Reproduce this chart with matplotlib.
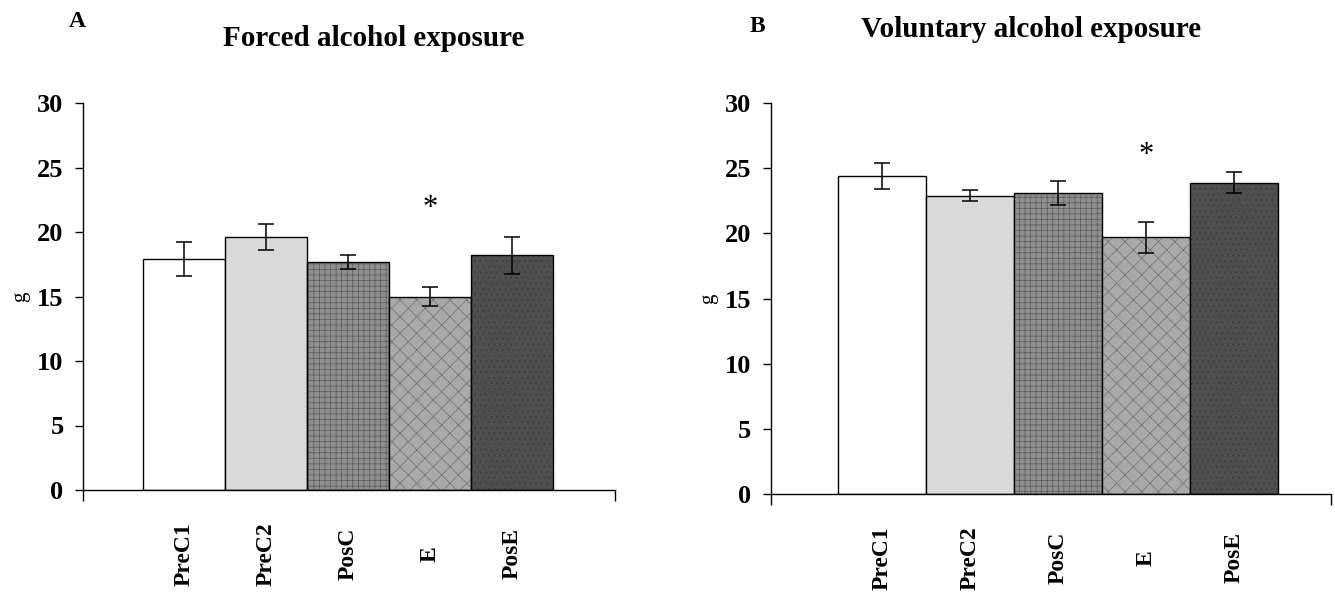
import numpy as np
import matplotlib
matplotlib.use("Agg")
import matplotlib.pyplot as plt

plt.rcParams.update({"font.family": "Liberation Serif", "font.weight": "bold",
                     "hatch.linewidth": 0.5})

groups = ["PreC1", "PreC2", "PosC", "E", "PosE"]
forced_mean = [17.9, 19.6, 17.7, 15.0, 18.2]
forced_err = [1.3, 1.0, 0.55, 0.75, 1.45]
voluntary_mean = [24.4, 22.9, 23.1, 19.7, 23.9]
voluntary_err = [1.0, 0.4, 0.95, 1.2, 0.8]
yticks = [0, 5, 10, 15, 20, 25, 30]

fills = ["white", "#d9d9d9", "#8f8f8f", "#a9a9a9", "#4f4f4f"]
hatches = [None, None, "+++", "xx", "..."]
hatch_cols = ["black", "black", "#5a5a5a", "#6e6e6e", "#3a3a3a"]


def panel(ax, means, errs, star_y, xlim, letter, title, letter_xy, title_xy):
    x = np.arange(len(groups))
    for i in x:
        ax.bar(x[i], means[i], width=1.0, color=fills[i], edgecolor=hatch_cols[i],
               hatch=hatches[i], linewidth=0)
        ax.bar(x[i], means[i], width=1.0, fill=False, edgecolor="black", linewidth=1.0)
    ax.errorbar(x, means, yerr=errs, fmt="none", ecolor="black", elinewidth=1.1,
                capsize=6, capthick=1.1)
    ax.text(x[3], star_y, "*", ha="center", va="center", fontsize=22,
            fontweight="normal")
    ax.set_xlim(*xlim)
    ax.set_ylim(0, 30)
    ax.set_yticks(yticks)
    ax.tick_params(axis="y", direction="out", length=6, width=1, labelsize=19, pad=8)
    ax.set_xticks(x, groups, rotation=90, fontsize=17)
    ax.set_xticks(list(xlim), minor=True)
    ax.tick_params(axis="x", which="major", length=0, pad=46)
    ax.tick_params(axis="x", which="minor", direction="out", length=8, width=1)
    for lbl in ax.get_xticklabels():
        lbl.set_verticalalignment("center")
    for s in ["top", "right"]:
        ax.spines[s].set_visible(False)
    for s in ["left", "bottom"]:
        ax.spines[s].set_linewidth(1.0)
    ax.set_ylabel("g", fontsize=15, labelpad=5)
    fig.text(*letter_xy, letter, fontsize=17, ha="center", va="center")
    fig.text(*title_xy, title, fontsize=21, ha="center", va="center")


fig = plt.figure(figsize=(13.35, 5.92), dpi=100)
axA = fig.add_axes([0.0622, 0.1723, 0.3985, 0.6537])
axB = fig.add_axes([0.5775, 0.1655, 0.4195, 0.6605])

panel(axA, forced_mean, forced_err, 21.8, (-1.232, 5.256), "A",
      "Forced alcohol exposure", (0.058, 0.963), (0.28, 0.935))
panel(axB, voluntary_mean, voluntary_err, 26.0, (-1.261, 5.103), "B",
      "Voluntary alcohol exposure", (0.567, 0.955), (0.772, 0.95))

fig.savefig("out.png", dpi=100)
